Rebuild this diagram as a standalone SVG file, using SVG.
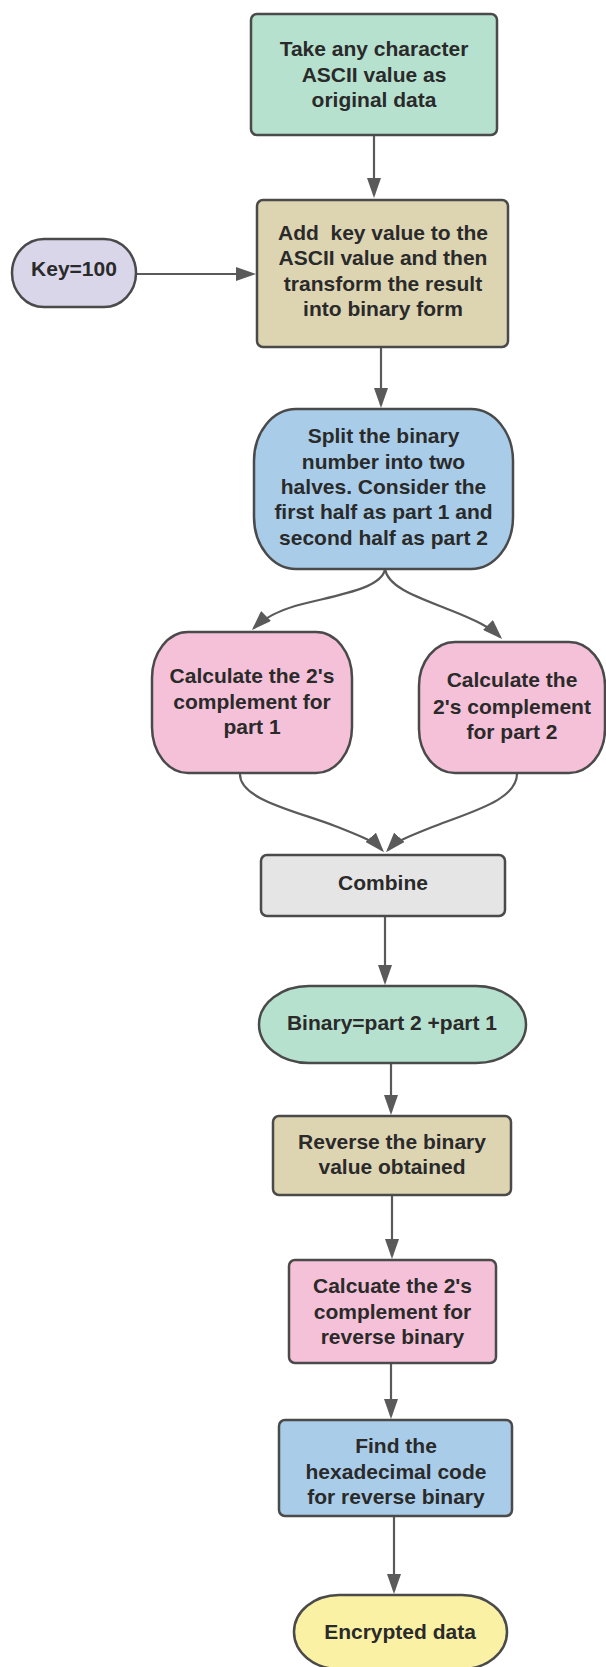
<svg xmlns="http://www.w3.org/2000/svg" width="606" height="1667" viewBox="0 0 606 1667">
<style>
.n{stroke:#4a4a4a;stroke-width:2.5}
.t{font-family:"Liberation Sans",Arial,sans-serif;font-weight:bold;font-size:21px;fill:#2a2a2a;text-anchor:middle}
.c{fill:none;stroke:#5a5a5a;stroke-width:2.2}
</style>
<defs>
<marker id="ah" markerUnits="userSpaceOnUse" markerWidth="20" markerHeight="14" viewBox="0 0 20 14" refX="17" refY="7" orient="auto">
<path d="M0,0 L20,7 L0,14 z" fill="#5a5a5a"/>
</marker>
</defs>
<rect width="606" height="1667" fill="#ffffff"/>
<g id="connectors">
<path class="c" d="M374,135 V195" marker-end="url(#ah)"/>
<path class="c" d="M136,274 H253" marker-end="url(#ah)"/>
<path class="c" d="M381,347 V405" marker-end="url(#ah)"/>
<path class="c" d="M385,569 C382,590 330,596 295,606 C275,612 263,619 254,628" marker-end="url(#ah)"/>
<path class="c" d="M385,569 C388,588 420,598 450,610 C475,620 490,627 500,637" marker-end="url(#ah)"/>
<path class="c" d="M240,773 C238,800 300,812 335,826 C360,836 374,841 382,850" marker-end="url(#ah)"/>
<path class="c" d="M517,773 C518,800 470,812 435,826 C410,836 396,841 388,850" marker-end="url(#ah)"/>
<path class="c" d="M385,916 V982" marker-end="url(#ah)"/>
<path class="c" d="M391,1063 V1112" marker-end="url(#ah)"/>
<path class="c" d="M392,1195 V1256" marker-end="url(#ah)"/>
<path class="c" d="M391,1363 V1416" marker-end="url(#ah)"/>
<path class="c" d="M394,1516 V1591" marker-end="url(#ah)"/>
</g>
<g id="n1">
<rect class="n" x="251" y="14" width="246" height="121" rx="6" fill="#b7e1cf"/>
<text class="t" x="374" y="56">Take any character</text>
<text class="t" x="374" y="82">ASCII value as</text>
<text class="t" x="374" y="107">original data</text>
</g>
<g id="n2">
<rect class="n" x="257" y="200" width="251" height="147" rx="6" fill="#ddd4b2"/>
<text class="t" x="383" y="240">Add&#160; key value to the</text>
<text class="t" x="383" y="265">ASCII value and then</text>
<text class="t" x="383" y="291">transform the result</text>
<text class="t" x="383" y="316">into binary form</text>
</g>
<g id="key">
<rect class="n" x="12" y="239" width="124" height="68" rx="32" ry="34" fill="#d9d6ea"/>
<text class="t" x="74" y="276">Key=100</text>
</g>
<g id="n3">
<rect class="n" x="254" y="409" width="259" height="160" rx="42" ry="52" fill="#a9cde9"/>
<text class="t" x="383.5" y="443">Split the binary</text>
<text class="t" x="383.5" y="469">number into two</text>
<text class="t" x="383.5" y="494">halves. Consider the</text>
<text class="t" x="383.5" y="519">first half as part 1 and</text>
<text class="t" x="383.5" y="545">second half as part 2</text>
</g>
<g id="p1">
<rect class="n" x="152" y="632" width="200" height="141" rx="36" ry="46" fill="#f5c1d8"/>
<text class="t" x="252" y="683">Calculate the 2's</text>
<text class="t" x="252" y="709">complement for</text>
<text class="t" x="252" y="734">part 1</text>
</g>
<g id="p2">
<rect class="n" x="419" y="642" width="186" height="131" rx="36" ry="44" fill="#f5c1d8"/>
<text class="t" x="512" y="687">Calculate the</text>
<text class="t" x="512" y="714">2's complement</text>
<text class="t" x="512" y="739">for part 2</text>
</g>
<g id="combine">
<rect class="n" x="261" y="855" width="244" height="61" rx="6" fill="#e5e5e5"/>
<text class="t" x="383" y="890">Combine</text>
</g>
<g id="binary">
<rect class="n" x="259" y="986" width="267" height="77" rx="50" ry="38.5" fill="#b7e1cf"/>
<text class="t" x="392" y="1030">Binary=part 2 +part 1</text>
</g>
<g id="reverse">
<rect class="n" x="273" y="1116" width="238" height="79" rx="6" fill="#ddd4b2"/>
<text class="t" x="392" y="1149">Reverse the binary</text>
<text class="t" x="392" y="1174">value obtained</text>
</g>
<g id="calc">
<rect class="n" x="289" y="1260" width="207" height="103" rx="6" fill="#f5c1d8"/>
<text class="t" x="392.5" y="1293">Calcuate the 2's</text>
<text class="t" x="392.5" y="1319">complement for</text>
<text class="t" x="392.5" y="1344">reverse binary</text>
</g>
<g id="find">
<rect class="n" x="279" y="1420" width="233" height="96" rx="6" fill="#a9cde9"/>
<text class="t" x="396" y="1453">Find the</text>
<text class="t" x="396" y="1479">hexadecimal code</text>
<text class="t" x="396" y="1504">for reverse binary</text>
</g>
<g id="enc">
<rect class="n" x="294" y="1595" width="213" height="74" rx="45" ry="37" fill="#fbf1a5"/>
<text class="t" x="400" y="1639">Encrypted data</text>
</g>
</svg>
